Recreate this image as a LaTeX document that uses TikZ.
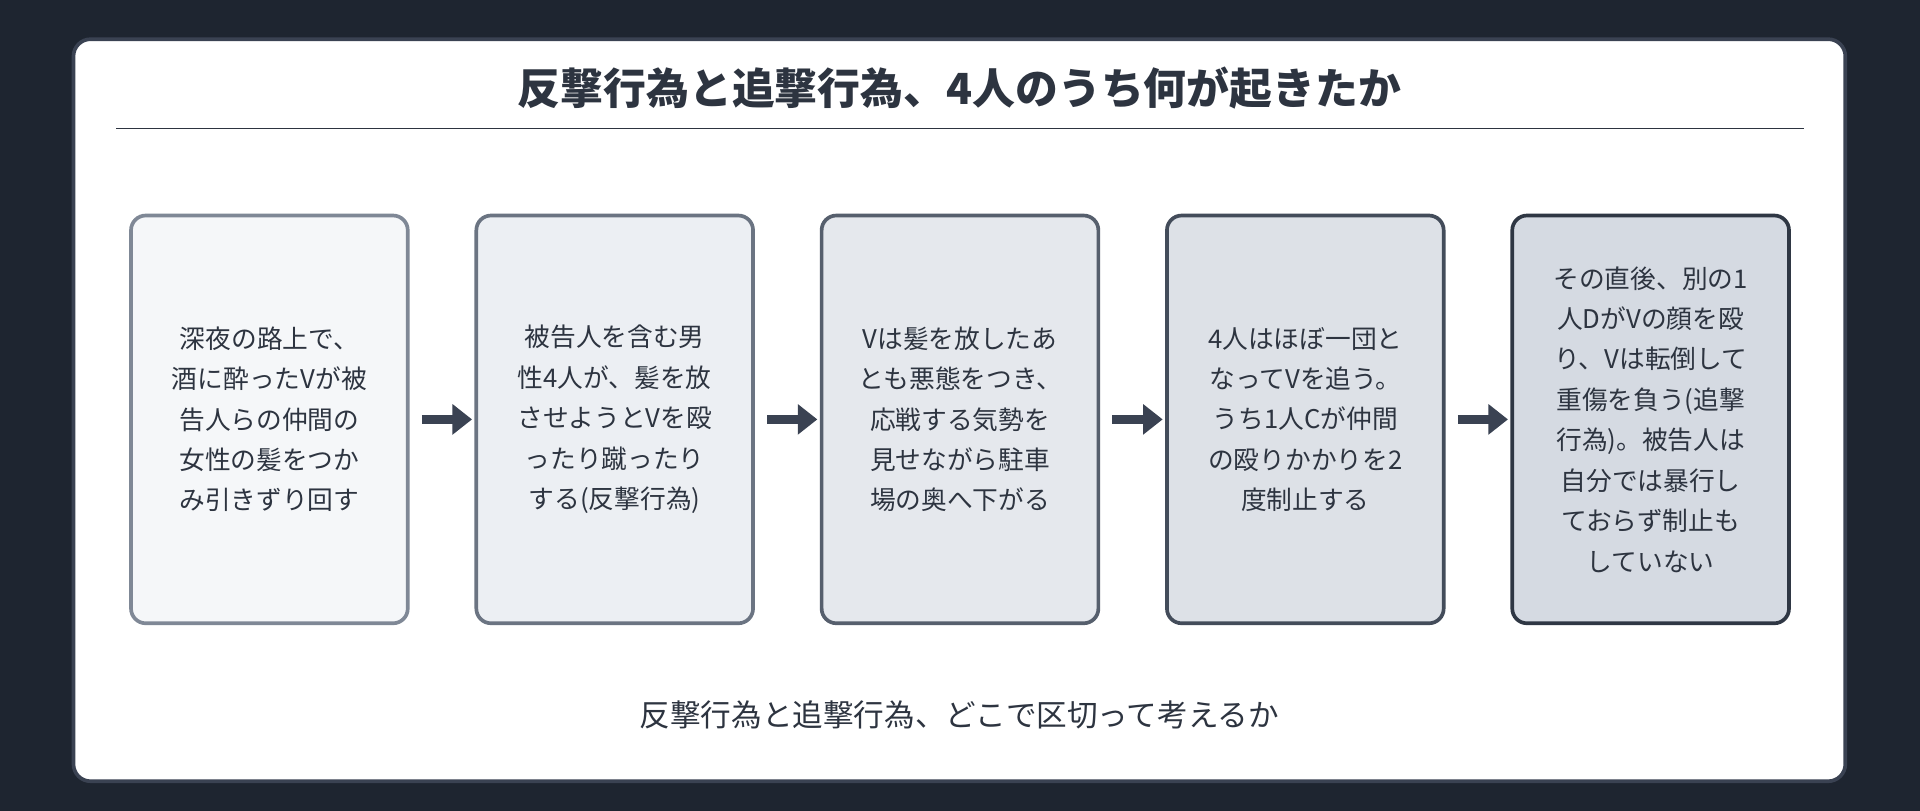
\documentclass[tikz,border=0pt]{standalone}
\usepackage{fontspec}
\setmainfont{Noto Sans CJK JP}
\usetikzlibrary{arrows.meta}
\definecolor{bg}{HTML}{1E2530}
\definecolor{ink}{HTML}{2D3440}
\definecolor{cardb}{HTML}{3A4252}
\definecolor{f1}{HTML}{F5F7F9}\definecolor{d1}{HTML}{7F8896}
\definecolor{f2}{HTML}{ECEFF3}\definecolor{d2}{HTML}{6B7482}
\definecolor{f3}{HTML}{E5E8ED}\definecolor{d3}{HTML}{565F6D}
\definecolor{f4}{HTML}{DDE1E7}\definecolor{d4}{HTML}{434C5A}
\definecolor{f5}{HTML}{D5DAE2}\definecolor{d5}{HTML}{2F3744}
\begin{document}
\begin{tikzpicture}[x=1pt,y=-1pt,
  box/.style={draw, line width=3pt, rounded corners=12pt, minimum width=226pt, minimum height=333pt, align=center, text=ink, font=\fontsize{21}{33}\selectfont, inner sep=0pt},
  arr/.style={draw=cardb, line width=7pt, -{Triangle[length=16pt,width=24pt]}, shorten <=10pt, shorten >=2pt}]
\useasboundingbox (0,0) rectangle (1568,662);
\fill[bg] (0,0) rectangle (1568,662);
\node[draw=cardb, fill=white, line width=3pt, rounded corners=14pt, minimum width=1447pt, minimum height=606pt, inner sep=0pt] (card) at (783.5,335) {};
\node[text=ink, font=\fontsize{35}{40}\selectfont\bfseries] (title) at (783.5,72) {反撃行為と追撃行為、4人のうち何が起きたか};
\coordinate (l1) at (95,105); \coordinate (l2) at (1473,105);
\draw[ink, line width=1.5pt] (l1) -- (l2);
\node[box, fill=f1, draw=d1] (b1) at (220,342.5) {深夜の路上で、\\酒に酔ったVが被\\告人らの仲間の\\女性の髪をつか\\み引きずり回す};
\node[box, fill=f2, draw=d2] (b2) at (502,342.5) {被告人を含む男\\性4人が、髪を放\\させようとVを殴\\ったり蹴ったり\\する(反撃行為)};
\node[box, fill=f3, draw=d3] (b3) at (784,342.5) {Vは髪を放したあ\\とも悪態をつき、\\応戦する気勢を\\見せながら駐車\\場の奥へ下がる};
\node[box, fill=f4, draw=d4] (b4) at (1066,342.5) {4人はほぼ一団と\\なってVを追う。\\うち1人Cが仲間\\の殴りかかりを2\\度制止する};
\node[box, fill=f5, draw=d5] (b5) at (1348,342.5) {その直後、別の1\\人DがVの顔を殴\\り、Vは転倒して\\重傷を負う(追撃\\行為)。被告人は\\自分では暴行し\\ておらず制止も\\していない};
\draw[arr] (b1.east) -- (b2.west);
\draw[arr] (b2.east) -- (b3.west);
\draw[arr] (b3.east) -- (b4.west);
\draw[arr] (b4.east) -- (b5.west);
\node[text=ink, font=\fontsize{25}{30}\selectfont] (sub) at (783.5,584) {反撃行為と追撃行為、どこで区切って考えるか};
\end{tikzpicture}
\end{document}
